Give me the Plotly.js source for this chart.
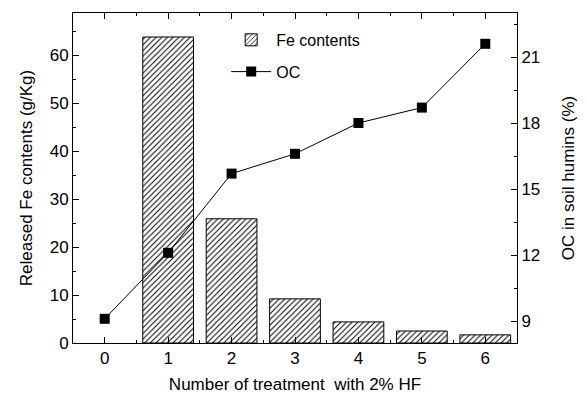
<!DOCTYPE html>
<html>
<head>
<meta charset="utf-8">
<script src="https://cdn.plot.ly/plotly-3.0.1.min.js"></script>
<style>html,body{margin:0;padding:0;background:#fff;}#chart{width:587px;height:400px;}</style>
</head>
<body>
<div id="chart"></div>
<script>
var treatments = [0, 1, 2, 3, 4, 5, 6];
var feTreatments = [1, 2, 3, 4, 5, 6];
var feContents = [63.8, 25.9, 9.2, 4.4, 2.5, 1.7];
var ocValues = [9.1, 12.1, 15.7, 16.6, 18.0, 18.7, 21.6];

var font = {family: 'Liberation Sans, Arial, sans-serif', size: 17, color: '#000'};

var traces = [
  {
    type: 'bar', name: 'Fe contents', x: feTreatments, y: feContents, width: 0.8,
    legendgroup: 'fe',
    marker: {color: '#fff', line: {color: '#000', width: 1},
             pattern: {shape: '/', fgcolor: '#000', bgcolor: '#fff', size: 4, solidity: 0.25}},
    yaxis: 'y'
  },
  {
    type: 'scatter', mode: 'lines+markers', name: 'OC', x: treatments, y: ocValues,
    legendgroup: 'oc',
    line: {color: '#000', width: 1}, marker: {symbol: 'square', size: 10, color: '#000'},
    yaxis: 'y2'
  }
];

var layout = {
  width: 587, height: 400,
  margin: {l: 73, r: 70, t: 13, b: 57},
  paper_bgcolor: '#fff', plot_bgcolor: '#fff',
  font: font,
  showlegend: true,
  legend: {x: 0.345, y: 0.97, xanchor: 'left', yanchor: 'top', bgcolor: 'rgba(0,0,0,0)',
           font: {family: font.family, size: 16, color: '#000'}, tracegroupgap: 8, itemwidth: 40},
  xaxis: {
    range: [-0.5, 6.5], tickvals: treatments, ticktext: treatments.map(String),
    showline: true, linecolor: '#000', linewidth: 1, mirror: 'ticks',
    ticks: 'inside', ticklen: 6, tickcolor: '#000', showgrid: false, zeroline: false,
    minor: {ticks: 'inside', ticklen: 3, dtick: 0.5, tick0: 0.5, tickcolor: '#000', showgrid: false},
    tickfont: font,
    title: {text: 'Number of treatment  with 2% HF', font: font, standoff: 10}
  },
  yaxis: {
    range: [0, 68.8], dtick: 10, tick0: 0,
    showline: true, linecolor: '#000', linewidth: 1,
    ticks: 'inside', ticklen: 6, tickcolor: '#000', showgrid: false, zeroline: false,
    minor: {ticks: 'inside', ticklen: 3, dtick: 5, tickcolor: '#000', showgrid: false},
    tickfont: font,
    title: {text: 'Released Fe contents (g/Kg)', font: font, standoff: 12}
  },
  yaxis2: {
    overlaying: 'y', side: 'right', range: [8, 23], tickvals: [9, 12, 15, 18, 21],
    showline: true, linecolor: '#000', linewidth: 1,
    ticks: 'inside', ticklen: 6, tickcolor: '#000', showgrid: false, zeroline: false,
    minor: {ticks: 'inside', ticklen: 3, dtick: 1.5, tick0: 9, tickcolor: '#000', showgrid: false},
    tickfont: font,
    title: {text: 'OC in soil humins (%)', font: font, standoff: 22}
  }
};

Plotly.newPlot('chart', traces, layout, {displayModeBar: false, staticPlot: true});
</script>
</body>
</html>
